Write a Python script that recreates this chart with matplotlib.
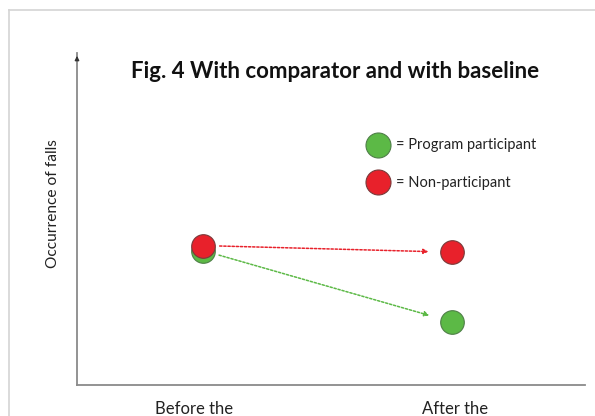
import matplotlib
matplotlib.use("Agg")
import matplotlib.pyplot as plt
from matplotlib.lines import Line2D

plt.rcParams['font.family'] = ['Lato', 'DejaVu Sans']

# occurrence of falls, arbitrary units
periods = ['Before the', 'After the']
participant = [4.05, 1.9]
non_participant = [4.2, 4.0]

green = '#5cb946'
red = '#e8212b'

W, H = 595, 416
fig = plt.figure(figsize=(W / 100, H / 100), dpi=100)

def fx(px):
    return px / W

def fy(py):
    return 1 - py / H

# light frame around the slide
fig.add_artist(Line2D([fx(9), 1], [fy(10), fy(10)], color='#d4d4d4', lw=1.2))
fig.add_artist(Line2D([fx(9), fx(9)], [fy(10), 0], color='#d4d4d4', lw=1.2))

ax = fig.add_axes([fx(77), fy(385), fx(585) - fx(77), fy(53) - fy(385)])
ax.set_xlim(0.494, 2.534)
ax.set_ylim(0, 10)
for s in ['top', 'right']:
    ax.spines[s].set_visible(False)
for s in ['left', 'bottom']:
    ax.spines[s].set_color('#8a8a8a')
    ax.spines[s].set_linewidth(1.3)
ax.set_xticks([])
ax.set_yticks([])
ax.patch.set_alpha(0)

# arrow tip on the y axis
ax.annotate('', xy=(0, 1.0), xycoords='axes fraction', xytext=(0, 0.97),
            arrowprops=dict(arrowstyle='-|>', color='#333333', lw=1.0, mutation_scale=6))

xs = [1, 2]
# dotted arrows showing the change
ax.annotate('', xy=(xs[1], non_participant[1]), xytext=(xs[0], non_participant[0]),
            arrowprops=dict(arrowstyle='-|>', color=red, lw=1.1, ls=(0, (1.5, 1.2)),
                            shrinkA=12, shrinkB=17, mutation_scale=7))
ax.annotate('', xy=(xs[1], participant[1]), xytext=(xs[0], participant[0]),
            arrowprops=dict(arrowstyle='-|>', color=green, lw=1.1, ls=(0, (1.5, 1.2)),
                            shrinkA=12, shrinkB=17, mutation_scale=7))

ax.plot(xs, participant, 'o', ms=17, color=green, mec='#4f7f48', mew=0.8, ls='none', zorder=3)
ax.plot(xs, non_participant, 'o', ms=17, color=red, mec='#7a3a3a', mew=0.8, ls='none', zorder=4)

# legend drawn as markers with text
fig.add_artist(Line2D([fx(378)], [fy(145)], marker='o', ms=18, color=green, mec='#4f7f48', mew=0.8))
fig.add_artist(Line2D([fx(378)], [fy(182)], marker='o', ms=18, color=red, mec='#7a3a3a', mew=0.8))
fig.text(fx(396), fy(145), '= Program participant', fontsize=10.5, va='center', ha='left', color='#222222')
fig.text(fx(396), fy(183), '= Non-participant', fontsize=10.5, va='center', ha='left', color='#222222')

fig.text(fx(335), fy(72), 'Fig. 4 With comparator and with baseline', fontsize=16,
         fontweight='bold', ha='center', va='center', color='#111111')
fig.text(fx(53), fy(204), 'Occurrence of falls', fontsize=11.2, rotation=90,
         ha='center', va='center', color='#222222')

fig.text(fx(194), fy(414), periods[0], fontsize=12, ha='center', va='baseline', color='#222222')
fig.text(fx(455), fy(414), periods[1], fontsize=12, ha='center', va='baseline', color='#222222')

fig.savefig('out.png', dpi=100)
